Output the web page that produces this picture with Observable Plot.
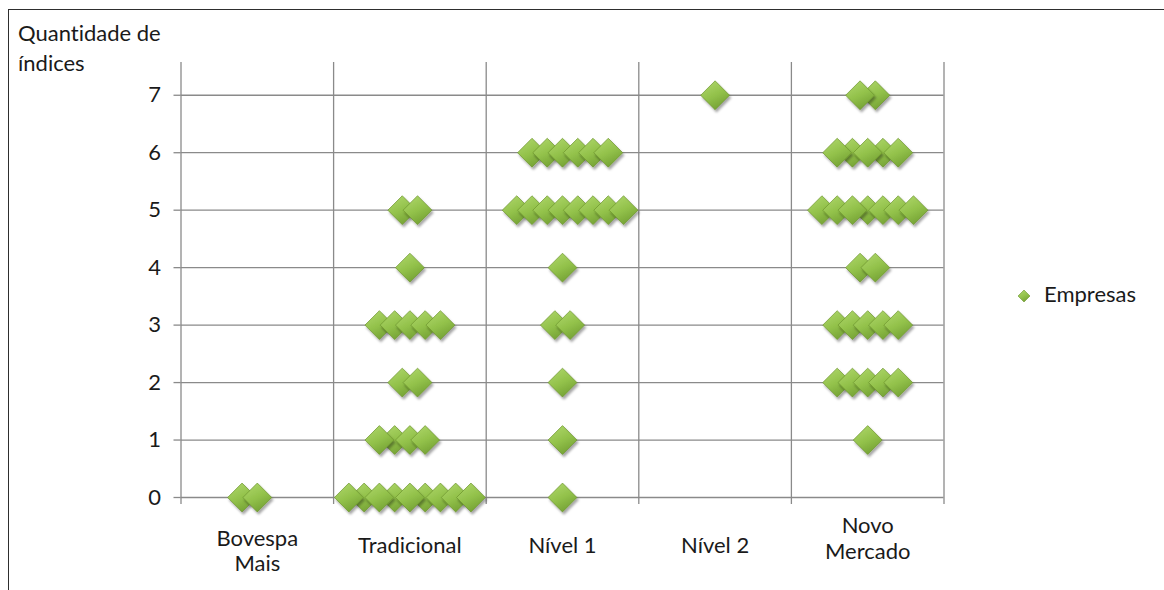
<!DOCTYPE html>
<html>
<head>
<meta charset="utf-8">
<script src="https://cdn.jsdelivr.net/npm/d3@7"></script>
<script src="https://cdn.jsdelivr.net/npm/@observablehq/plot@0.6"></script>
<style>
  html, body { margin: 0; padding: 0; background: #fff; overflow: hidden; }
  #wrap { position: relative; width: 1164px; height: 590px; font-family: Lato, "Liberation Sans", sans-serif; color: #1a1a1a; font-variant-ligatures: none; }
  #chart { position: absolute; left: 0; top: 0; }
  #chart svg text { font-variant-ligatures: none; }
  #frame { position: absolute; left: 8px; top: 9px; width: 1200px; height: 700px; border: 1.5px solid #2e2e2e; box-sizing: border-box; pointer-events: none; }
  #ytitle { position: absolute; left: 18px; top: 18px; font-size: 22px; line-height: 30px; }
  #legend-mark { position: absolute; left: 1017px; top: 289px; }
  #legend-text { position: absolute; left: 1044px; top: 281px; font-size: 22px; line-height: 26px; }
</style>
</head>
<body>
<div id="wrap">
  <div id="chart"></div>
  <div id="frame"></div>
  <div id="ytitle">Quantidade de<br>índices</div>
  <svg id="legend-mark" width="14" height="14"><path d="M7,1 L13,7 L7,13 L1,7 Z" fill="url(#verde)" stroke="#6b942d" stroke-width="0.6"/></svg>
  <div id="legend-text">Empresas</div>
</div>
<script>
// Segmentos de listagem (eixo X, posições 1..5)
const categorias = ["Bovespa\nMais", "Tradicional", "Nível 1", "Nível 2", "Novo\nMercado"];

// Marcas do eixo Y (quantidade de índices)
const yTicks = [0, 1, 2, 3, 4, 5, 6, 7];
const yTopo = 7.57;

// Limites entre segmentos (linhas verticais de grade)
const xGrade = [0.5, 1.5, 2.5, 3.5, 4.5, 5.5];

// Empresas: posição horizontal (segmento + deslocamento) e quantidade de índices
const empresasX = [
  // Bovespa Mais
  0.9, 1.0,
  // Tradicional
  1.7, 1.9, 2.1, 1.6, 1.8, 2.0, 2.2, 2.3, 2.4,
  1.9, 1.8, 2.0, 2.1,
  1.95, 2.05,
  1.8, 1.9, 2.0, 2.1, 2.2,
  2.0,
  1.95, 2.05,
  // Nível 1
  3.0,
  3.0,
  3.0,
  2.95, 3.05,
  3.0,
  2.7, 2.8, 2.9, 3.0, 3.1, 3.2, 3.3, 3.4,
  2.8, 2.9, 3.0, 3.1, 3.2, 3.3,
  // Nível 2
  4.0,
  // Novo Mercado
  5.0,
  4.8, 4.9, 5.0, 5.1, 5.2,
  4.8, 4.9, 5.0, 5.1, 5.2,
  4.95, 5.05,
  5.0, 4.7, 4.8, 4.9, 5.1, 5.2, 5.3,
  4.9, 5.1, 4.8, 5.0, 5.2,
  5.05, 4.95
];
const empresasY = [
  0, 0,
  0, 0, 0, 0, 0, 0, 0, 0, 0,
  1, 1, 1, 1,
  2, 2,
  3, 3, 3, 3, 3,
  4,
  5, 5,
  0,
  1,
  2,
  3, 3,
  4,
  5, 5, 5, 5, 5, 5, 5, 5,
  6, 6, 6, 6, 6, 6,
  7,
  1,
  2, 2, 2, 2, 2,
  3, 3, 3, 3, 3,
  4, 4,
  5, 5, 5, 5, 5, 5, 5,
  6, 6, 6, 6, 6,
  7, 7
];

const empresas = empresasX.map((x, i) => ({x, y: empresasY[i]}));

const corGrade = "#8a8a8a";
const rotulo = d => categorias[d - 1];

const chart = Plot.plot({
  width: 1164,
  height: 590,
  marginLeft: 180.5,
  marginRight: 220.5,
  marginTop: 62,
  marginBottom: 93,
  style: {fontFamily: "Lato, 'Liberation Sans', sans-serif", fontSize: "22px", color: "#1a1a1a", background: "transparent"},
  x: {domain: [0.5, 5.5], axis: null},
  y: {domain: [0, yTopo], axis: null},
  marks: [
    Plot.ruleY(yTicks, {x1: 0.5, x2: 5.5, stroke: corGrade, strokeWidth: 1.3}),
    Plot.ruleX(xGrade, {y1: 0, y2: yTopo, stroke: corGrade, strokeWidth: 1.3}),
    Plot.axisY({ticks: yTicks, tickSize: 7, tickPadding: 13, stroke: corGrade, strokeWidth: 1.3, label: null, tickFormat: d => String(d)}),
    Plot.axisX({ticks: xGrade, tickSize: 7, stroke: corGrade, strokeWidth: 1.3, label: null, tickFormat: () => ""}),
    Plot.axisX({ticks: [2, 3, 4], tickSize: 0, tickPadding: 48, lineAnchor: "middle", label: null, tickFormat: rotulo}),
    Plot.axisX({ticks: [1], tickSize: 0, tickPadding: 53, lineAnchor: "middle", lineHeight: 1.15, label: null, tickFormat: rotulo}),
    Plot.axisX({ticks: [5], tickSize: 0, tickPadding: 40, lineAnchor: "middle", lineHeight: 1.2, label: null, tickFormat: rotulo}),
    Plot.dot(empresas, {x: "x", y: "y", symbol: "diamond2", r: 13, fill: "url(#verde)", stroke: "#6b942d", strokeWidth: 0.7})
  ]
});

// Gradiente verde dos losangos e sombra projetada
const svg = d3.select(chart);
const defs = svg.insert("defs", ":first-child");
const grad = defs.append("linearGradient").attr("id", "verde")
  .attr("x1", 0.25).attr("y1", 0).attr("x2", 0.75).attr("y2", 1);
grad.append("stop").attr("offset", "0%").attr("stop-color", "#acd568");
grad.append("stop").attr("offset", "50%").attr("stop-color", "#92c14a");
grad.append("stop").attr("offset", "100%").attr("stop-color", "#709d31");
const sombra = defs.append("filter").attr("id", "sombra")
  .attr("x", "-40%").attr("y", "-40%").attr("width", "180%").attr("height", "180%");
sombra.append("feDropShadow").attr("dx", 1.5).attr("dy", 2.5).attr("stdDeviation", 1.3)
  .attr("flood-color", "#000").attr("flood-opacity", 0.35);
svg.selectAll("g[aria-label='dot'] path").attr("filter", "url(#sombra)");

document.getElementById("chart").append(chart);
</script>
</body>
</html>
